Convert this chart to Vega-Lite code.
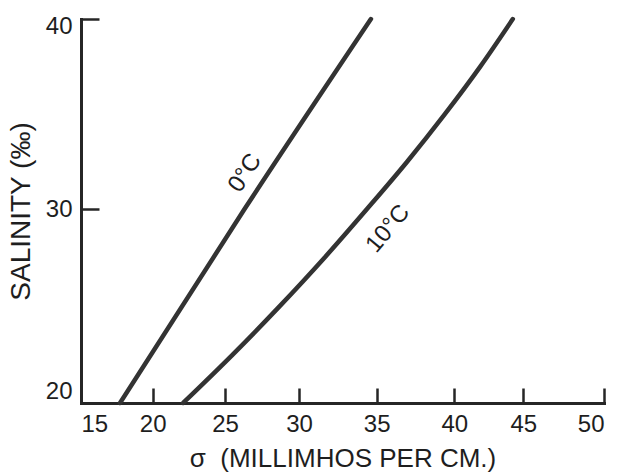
{
  "$schema": "https://vega.github.io/schema/vega-lite/v6.json",
  "width": 523,
  "height": 384,
  "autosize": {"type": "none"},
  "padding": {"left": 81, "top": 19, "right": 15, "bottom": 70},
  "background": "white",
  "config": {
    "view": {"stroke": null},
    "font": "Liberation Sans",
    "axis": {
      "grid": false,
      "domainColor": "#262626",
      "domainWidth": 3,
      "domainCap": "square",
      "tickColor": "#262626",
      "tickWidth": 2.5,
      "labelColor": "#1e1e1e",
      "labelFontSize": 24,
      "titleColor": "#1e1e1e",
      "titleFontWeight": "normal"
    }
  },
  "datasets": {
    "curves": [
      {"temp": "0°C", "sigma": 17.72, "salinity": 20},
      {"temp": "0°C", "sigma": 26.31, "salinity": 30},
      {"temp": "0°C", "sigma": 34.63, "salinity": 40},
      {"temp": "10°C", "sigma": 22.1, "salinity": 20},
      {"temp": "10°C", "sigma": 25.52, "salinity": 22.5},
      {"temp": "10°C", "sigma": 28.7, "salinity": 25},
      {"temp": "10°C", "sigma": 31.64, "salinity": 27.5},
      {"temp": "10°C", "sigma": 34.36, "salinity": 30},
      {"temp": "10°C", "sigma": 36.96, "salinity": 32.5},
      {"temp": "10°C", "sigma": 39.39, "salinity": 35},
      {"temp": "10°C", "sigma": 41.88, "salinity": 37.5},
      {"temp": "10°C", "sigma": 44.24, "salinity": 40}
    ],
    "labels": [
      {"temp": "0°C", "sigma": 26.35, "salinity": 31.9},
      {"temp": "10°C", "sigma": 35.73, "salinity": 28.99}
    ]
  },
  "layer": [
    {
      "data": {"name": "curves"},
      "mark": {"type": "line", "interpolate": "monotone", "strokeWidth": 4.5, "color": "#333333", "strokeCap": "round"},
      "encoding": {
        "x": {
          "field": "sigma",
          "type": "quantitative",
          "scale": {"domain": [15, 20, 25, 30, 35, 40, 45, 50], "range": [0, 71.7, 144, 218, 295.7, 373.3, 442.3, 523]},
          "axis": {
            "values": [15, 20, 25, 30, 35, 40, 45, 50],
            "format": "d",
            "tickSize": -15,
            "labelPadding": 24,
            "title": "σ\u00a0\u00a0(MILLIMHOS PER CM.)",
            "titleFontSize": 26,
            "titlePadding": 9
          }
        },
        "y": {
          "field": "salinity",
          "type": "quantitative",
          "scale": {"domain": [20, 30, 40], "range": [384, 190.3, 0]},
          "axis": {
            "values": [20, 30, 40],
            "format": "d",
            "tickSize": -18,
            "labelPadding": 27,
            "labelFlush": true,
            "labelOffset": {"condition": {"test": "datum.value === 40", "value": -5}, "value": 0},
            "title": "SALINITY (‰)",
            "titleFontSize": 28,
            "titlePadding": 10
          }
        },
        "detail": {"field": "temp"}
      }
    },
    {
      "data": {"name": "labels"},
      "transform": [{"filter": "datum.temp === '0°C'"}],
      "mark": {"type": "text", "angle": -57, "fontSize": 24, "color": "#1e1e1e", "font": "Liberation Sans"},
      "encoding": {
        "x": {"field": "sigma", "type": "quantitative"},
        "y": {"field": "salinity", "type": "quantitative"},
        "text": {"field": "temp"}
      }
    },
    {
      "data": {"name": "labels"},
      "transform": [{"filter": "datum.temp === '10°C'"}],
      "mark": {"type": "text", "angle": -50, "fontSize": 24, "color": "#1e1e1e", "font": "Liberation Sans"},
      "encoding": {
        "x": {"field": "sigma", "type": "quantitative"},
        "y": {"field": "salinity", "type": "quantitative"},
        "text": {"field": "temp"}
      }
    }
  ]
}
